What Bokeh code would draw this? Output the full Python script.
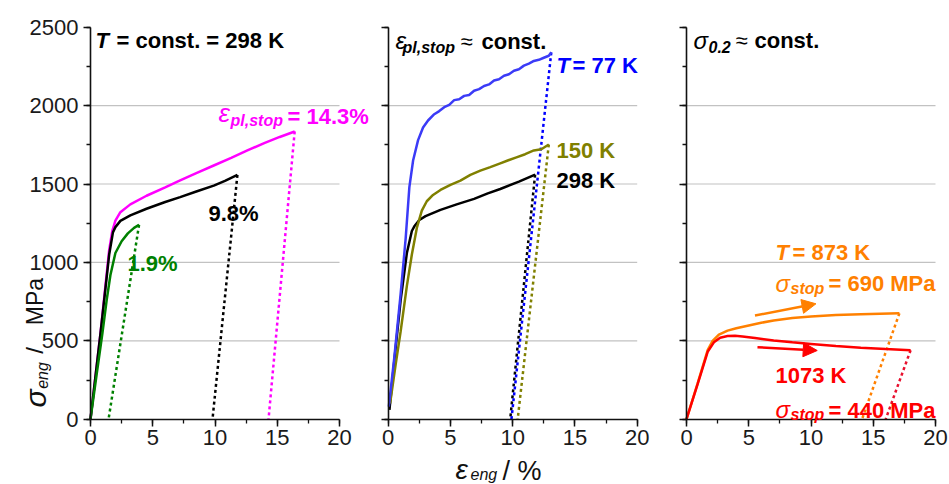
import math
from bokeh.plotting import figure
from bokeh.models import (Range1d, SingleIntervalTicker, Label, Arrow, NormalHead, LinearAxis)
from bokeh.embed import file_html
from bokeh.resources import INLINE

FONT = "Liberation Sans"

# ---------------- data (strain in %, stress in MPa) ----------------
x_ticks_max = 20
y_ticks_max = 2500
grid_y = [500, 1000, 1500, 2000]

# Panel 1: T = const. = 298 K
p1_mag_x = [0, 0.8, 1.5, 1.75, 2.0, 2.4, 3.2, 4.5, 6.0, 7.2, 8.5, 9.9, 11.3, 12.6, 14.0, 15.2, 16.4]
p1_mag_y = [0, 545, 1080, 1200, 1267, 1320, 1370, 1425, 1478, 1523, 1570, 1618, 1666, 1714, 1762, 1800, 1835]
p1_mag_unload_x = [16.4, 14.3]
p1_mag_unload_y = [1835, 0]

p1_blk_x = [0, 0.8, 1.5, 1.8, 2.0, 2.4, 3.2, 4.5, 6.0, 7.2, 8.5, 9.9, 10.8, 11.8]
p1_blk_y = [0, 545, 1050, 1190, 1225, 1265, 1300, 1342, 1385, 1416, 1452, 1490, 1520, 1558]
p1_blk_unload_x = [11.8, 9.8]
p1_blk_unload_y = [1558, 0]

p1_grn_x = [0, 0.5, 0.95, 1.3, 1.6, 2.0, 2.5, 3.0, 3.5, 3.9]
p1_grn_y = [0, 290, 545, 760, 920, 1060, 1135, 1185, 1220, 1240]
p1_grn_unload_x = [3.9, 1.45]
p1_grn_unload_y = [1240, 0]

# Panel 2: eps_pl,stop ~ const.
p2_blue_x = [0.05, 0.5, 1.0, 1.4, 1.7, 2.0, 2.4, 2.8, 3.2, 3.7, 4.1, 4.5, 4.9, 5.3, 5.7, 6.1, 6.5,
             6.9, 7.3, 7.7, 8.1, 8.5, 8.9, 9.3, 9.7, 10.1, 10.5, 10.9, 11.3, 11.7, 12.1, 12.5, 12.9, 13.1]
p2_blue_y = [80, 400, 800, 1150, 1480, 1650, 1780, 1860, 1905, 1945, 1965, 1990, 2005, 2035, 2040, 2062, 2068,
             2095, 2105, 2125, 2135, 2160, 2168, 2190, 2200, 2222, 2232, 2255, 2268, 2285, 2292, 2305, 2318, 2340]
p2_blue_unload_x = [13.1, 9.9]
p2_blue_unload_y = [2340, 0]

p2_olv_x = [0.15, 0.6, 1.0, 1.5, 1.9, 2.3, 2.7, 3.1, 3.6, 4.2, 5.0, 5.8, 6.6, 7.4, 8.2, 9.0, 9.6,
            10.3, 11.0, 11.7, 12.3, 12.9]
p2_olv_y = [100, 350, 560, 850, 1050, 1220, 1330, 1390, 1430, 1462, 1495, 1522, 1558, 1585, 1608, 1632, 1650,
            1670, 1690, 1714, 1722, 1752]
p2_olv_unload_x = [12.9, 10.4]
p2_olv_unload_y = [1752, 0]

p2_blk_x = [0.1, 0.5, 1.0, 1.5, 1.9, 2.1, 2.5, 3.0, 4.2, 5.5, 6.9, 8.0, 9.0, 10.5, 11.8]
p2_blk_y = [60, 380, 760, 1060, 1200, 1230, 1270, 1295, 1335, 1370, 1405, 1440, 1468, 1515, 1560]
p2_blk_unload_x = [11.8, 9.8]
p2_blk_unload_y = [1560, 0]

# Panel 3: sigma_0.2 ~ const.
p3_org_x = [0, 0.9, 1.7, 2.1, 2.6, 3.3, 4.0, 5.0, 6.0, 7.0, 8.5, 10.0, 12.0, 14.0, 17.1]
p3_org_y = [0, 230, 440, 500, 540, 565, 580, 598, 615, 630, 645, 655, 665, 670, 675]
p3_org_unload_x = [17.1, 14.1]
p3_org_unload_y = [675, 0]

p3_red_x = [0, 0.9, 1.7, 2.2, 2.7, 3.3, 3.9, 4.5, 5.5, 7.0, 8.5, 10.0, 12.0, 14.0, 16.0, 18.0]
p3_red_y = [0, 225, 430, 490, 520, 530, 532, 528, 518, 502, 490, 480, 467, 456, 447, 440]
p3_red_unload_x = [18.0, 16.0]
p3_red_unload_y = [440, 0]

arrow_873_x = [5.5, 10.4]
arrow_873_y = [661, 736]
arrow_1073_x = [5.7, 10.5]
arrow_1073_y = [459, 438]

# ---------------- layout / styling ----------------
MAG = "#ff00ff"
GREEN = "#008000"
BLUE_LINE = "#3b3bf7"
BLUE = "#0000ff"
OLIVE = "#808000"
ORANGE = "#ff8000"
RED = "#ff0000"
RED_DOT = "#e8102e"
LW = 2.5
DOT = "3 3"

W, H = 949, 484
PANEL_LEFT = {"default": 90.0, "p2": 387.7, "p3": 686.0}   # pixel of x = 0 in each panel
Y0_PX = 418.7                                              # pixel of y = 0
SX = 249.0 / x_ticks_max
SY = 392.0 / y_ticks_max
TOP_PX = Y0_PX - y_ticks_max * SY


def xr(x0):
    return Range1d(-x0 / SX, (W - x0) / SX)


p = figure(width=W, height=H, x_range=xr(PANEL_LEFT["default"]),
           y_range=Range1d((Y0_PX - H) / SY, Y0_PX / SY),
           x_axis_type=None, y_axis_type=None,
           output_backend="svg", toolbar_location=None, tools="", min_border=0)
p.extra_x_ranges = {"p2": xr(PANEL_LEFT["p2"]), "p3": xr(PANEL_LEFT["p3"])}
p.outline_line_color = None
p.background_fill_color = "white"
p.border_fill_color = "white"


def style_axis(ax):
    ax.axis_line_color = "#111111"
    ax.axis_line_width = 1.6
    ax.major_tick_line_color = "#111111"
    ax.minor_tick_line_color = "#111111"
    ax.major_tick_line_width = 1.5
    ax.minor_tick_line_width = 1.3
    ax.major_tick_in = 0
    ax.major_tick_out = 7
    ax.minor_tick_in = 0
    ax.minor_tick_out = 4
    ax.major_label_text_font = FONT
    ax.major_label_text_font_size = "22px"
    ax.major_label_text_color = "#1a1a1a"


for rname in ["default", "p2", "p3"]:
    # grid lines of the panel
    p.segment(x0=[0] * len(grid_y), x1=[x_ticks_max] * len(grid_y), y0=grid_y, y1=grid_y,
              x_range_name=rname, line_color="#c2c2c2", line_width=1.2)
    xa = LinearAxis(x_range_name=rname, fixed_location=0, bounds=(0, x_ticks_max),
                    ticker=SingleIntervalTicker(interval=5, num_minor_ticks=2))
    style_axis(xa)
    xa.major_label_standoff = 4
    p.add_layout(xa, "below")
    ya = LinearAxis(x_range_name=rname, fixed_location=0, bounds=(0, y_ticks_max),
                    ticker=SingleIntervalTicker(interval=500, num_minor_ticks=2))
    style_axis(ya)
    ya.major_label_standoff = 5
    if rname != "default":
        ya.major_label_text_color = None
    p.add_layout(ya, "left")


def curve(xs, ys, rname, color, dash=None):
    kw = dict(line_color=color, line_width=LW)
    if dash:
        kw["line_dash"] = dash
    if rname != "default":
        kw["x_range_name"] = rname
    p.line(xs, ys, **kw)


# ---- panel 1 curves
curve(p1_mag_unload_x, p1_mag_unload_y, "default", MAG, DOT)
curve(p1_blk_unload_x, p1_blk_unload_y, "default", "black", DOT)
curve(p1_grn_unload_x, p1_grn_unload_y, "default", GREEN, DOT)
curve(p1_mag_x, p1_mag_y, "default", MAG)
curve(p1_blk_x, p1_blk_y, "default", "black")
curve(p1_grn_x, p1_grn_y, "default", GREEN)

# ---- panel 2 curves
curve(p2_blk_unload_x, p2_blk_unload_y, "p2", "black", DOT)
curve(p2_blue_unload_x, p2_blue_unload_y, "p2", BLUE, DOT)
curve(p2_olv_unload_x, p2_olv_unload_y, "p2", OLIVE, DOT)
curve(p2_blk_x, p2_blk_y, "p2", "black")
curve(p2_olv_x, p2_olv_y, "p2", OLIVE)
curve(p2_blue_x, p2_blue_y, "p2", BLUE_LINE)

# ---- panel 3 curves
curve(p3_org_unload_x, p3_org_unload_y, "p3", ORANGE, DOT)
curve(p3_red_unload_x, p3_red_unload_y, "p3", RED_DOT, DOT)
curve(p3_org_x, p3_org_y, "p3", ORANGE)
curve(p3_red_x, p3_red_y, "p3", RED)
p.add_layout(Arrow(x_start=arrow_873_x[0], y_start=arrow_873_y[0], x_end=arrow_873_x[1], y_end=arrow_873_y[1],
                   x_range_name="p3", line_color=ORANGE, line_width=LW,
                   end=NormalHead(size=14, fill_color=ORANGE, line_color=ORANGE, line_width=1)))
p.add_layout(Arrow(x_start=arrow_1073_x[0], y_start=arrow_1073_y[0], x_end=arrow_1073_x[1], y_end=arrow_1073_y[1],
                   x_range_name="p3", line_color=RED, line_width=LW,
                   end=NormalHead(size=14, fill_color=RED, line_color=RED, line_width=1)))

# ---------------- texts (positioned in pixels from panel-1 corner (0, 2500)) ----------------
bg_labels = []
fg_labels = []


def txt(px, py, s, size, style="bold", color="black", angle=0.0, bg=False, pad=2,
        align="left", baseline="alphabetic"):
    common = dict(x=0, y=y_ticks_max, x_offset=px - PANEL_LEFT["default"], y_offset=TOP_PX - py, text=s,
                  text_font=FONT, text_font_size=f"{size}px", text_font_style=style,
                  text_align=align, text_baseline=baseline, angle=angle)
    if bg:
        bg_labels.append(Label(text_color=None, background_fill_color="white", padding=pad, **common))
    fg_labels.append(Label(text_color=color, **common))


ROT = math.pi / 2
DARK = "#111111"

# panel 1
txt(95, 40, "T", 22, "bold italic")
txt(116, 40, "= const. = 298 K", 22, "bold")
txt(218, 112, "ε", 26, "italic", MAG, bg=True, pad=3)
txt(230, 120, "pl,stop", 16, "bold italic", MAG, bg=True, pad=3)
txt(287, 116, "= 14.3%", 22, "bold", MAG, bg=True, pad=3)
txt(208, 213, "9.8%", 22, "bold", "black", bg=True, pad=(8, 3))
txt(127, 263, "1.9%", 22, "bold", GREEN, bg=True, pad=(8, 3))
# y axis title (rotated pieces, anchored at their centres)
txt(35, 398, "σ", 30, "italic", DARK, angle=ROT, align="center", baseline="middle")
txt(42, 375, "eng", 16, "italic", DARK, angle=ROT, align="center", baseline="middle")
txt(34, 350, "/", 24, "normal", DARK, angle=ROT, align="center", baseline="middle")
txt(34, 301, "MPa", 23, "normal", DARK, angle=ROT, align="center", baseline="middle")

# panel 2
txt(395, 40, "ε", 24, "italic")
txt(402, 47, "pl,stop", 16, "bold italic")
txt(460, 41, "≈", 22, "normal")
txt(481, 41, "const.", 22, "bold")
txt(556, 65, "T", 22, "bold italic", BLUE)
txt(572, 65, "= 77 K", 22, "bold", BLUE)
txt(556, 150, "150 K", 22, "bold", OLIVE)
txt(556, 180, "298 K", 22, "bold", "black")
# x axis title
txt(455, 469, "ε", 28, "italic", DARK)
txt(470, 474, "eng", 16, "italic", DARK)
txt(502, 470, "/ %", 27, "normal", DARK)

# panel 3
txt(693, 40, "σ", 24, "italic")
txt(708, 46, "0.2", 16, "bold italic")
txt(735, 40, "≈", 22, "normal")
txt(754, 40, "const.", 22, "bold")
txt(775, 252, "T", 22, "bold italic", ORANGE)
txt(792, 252, "= 873 K", 22, "bold", ORANGE)
txt(775, 283, "σ", 24, "italic", ORANGE, bg=True, pad=3)
txt(790, 288, "stop", 16, "bold italic", ORANGE, bg=True, pad=3)
txt(828, 283, "= 690 MPa", 22, "bold", ORANGE, bg=True, pad=3)
txt(775, 375, "1073 K", 22, "bold", RED)
txt(775, 409, "σ", 24, "italic", RED)
txt(790, 414, "stop", 16, "bold italic", RED)
txt(828, 410, "= 440 MPa", 22, "bold", RED)

for lab in bg_labels + fg_labels:
    p.add_layout(lab)

open("out.html", "w").write(file_html(p, INLINE))
